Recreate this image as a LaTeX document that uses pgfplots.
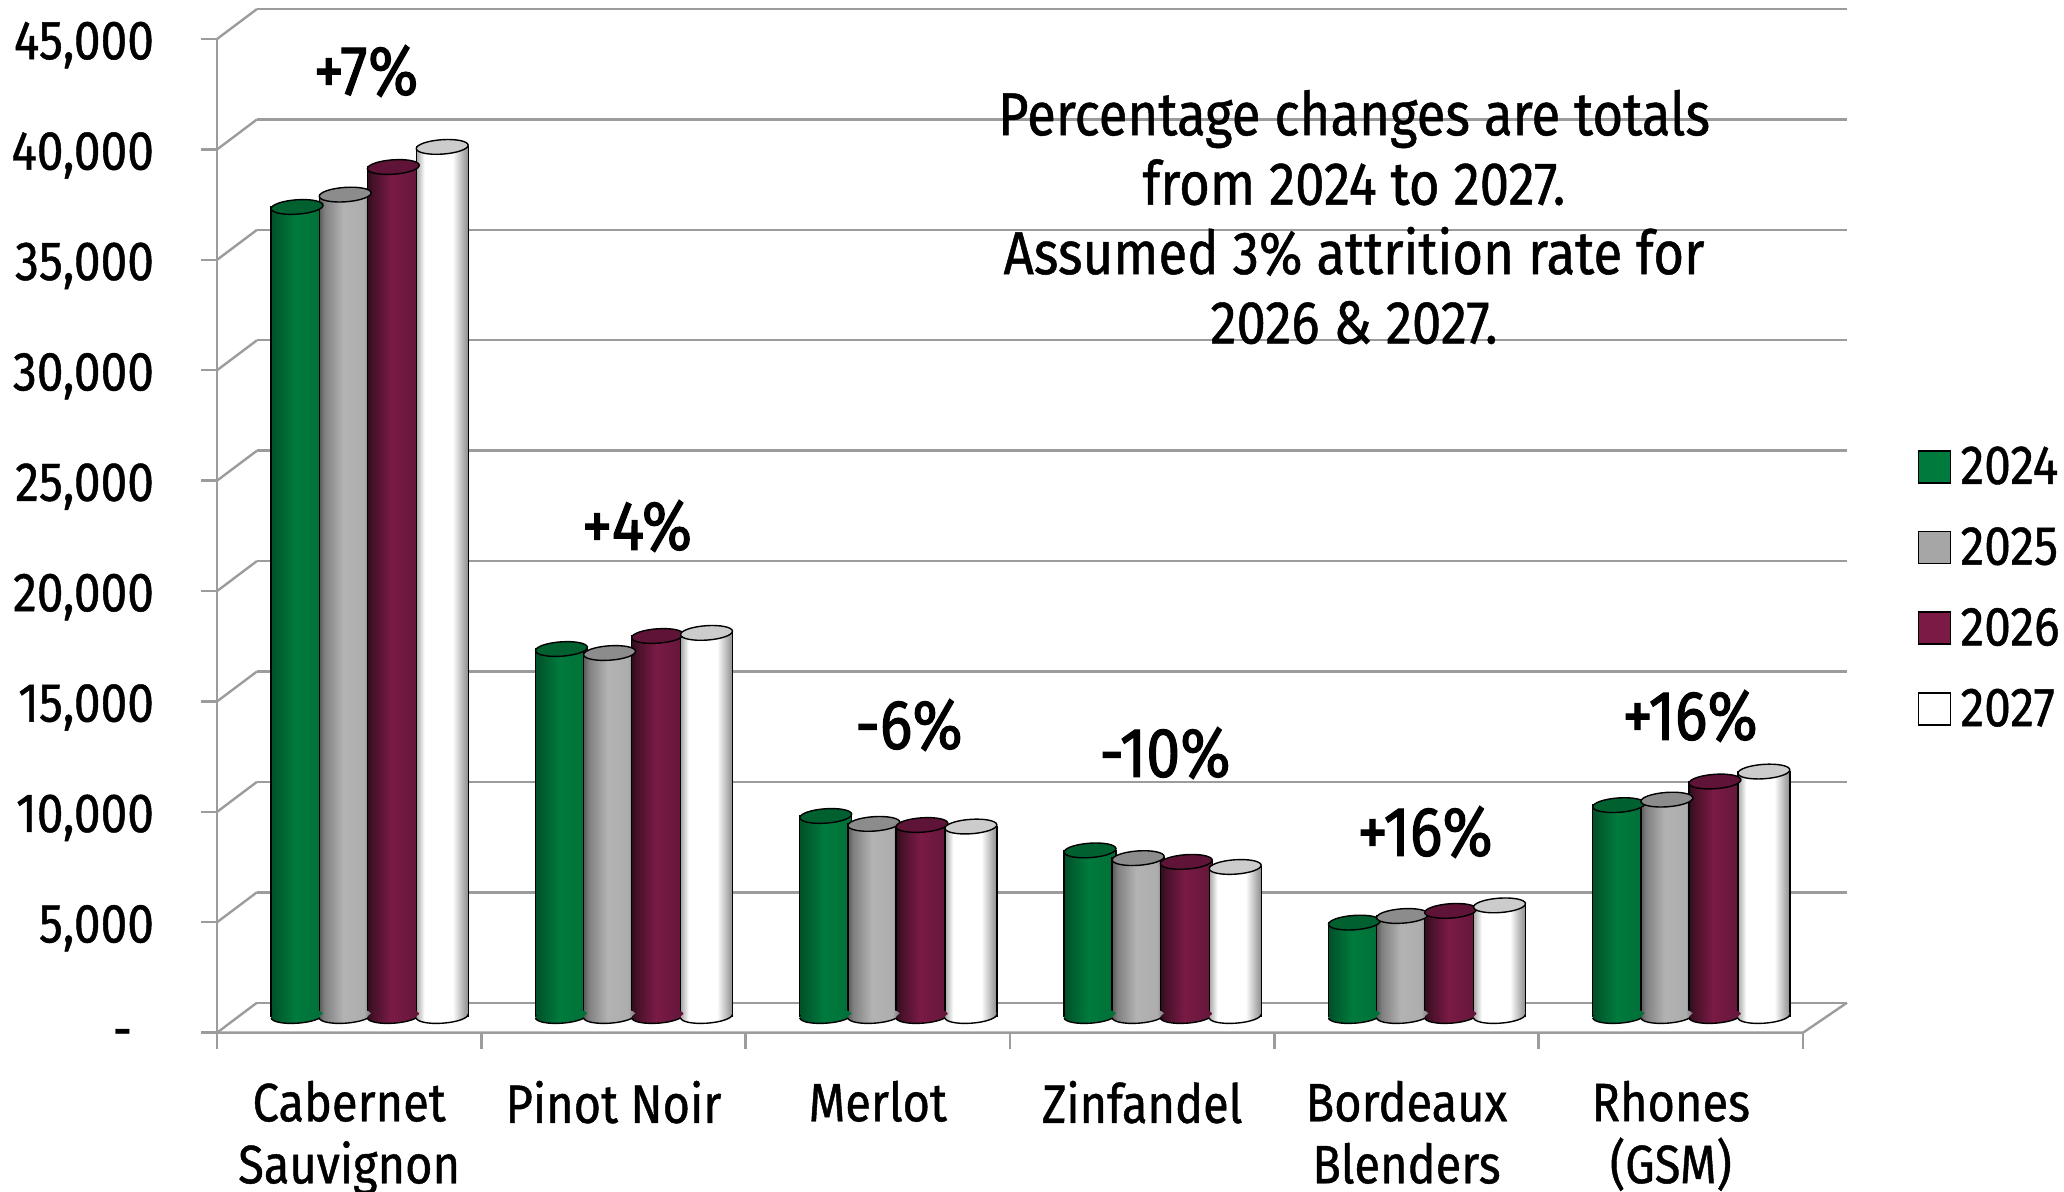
\documentclass[border=0pt]{standalone}
\usepackage{fontspec}
\setmainfont[FakeStretch=0.87,FakeBold=0.8]{Fira Sans}
\newfontface\pctfont[FakeStretch=0.87,FakeBold=1.5]{Fira Sans}
\usepackage{pgfplots}
\usepackage{pgfplotstable}
\pgfplotsset{compat=1.18}

% one reference pixel = 0.5pt
\def\px#1#2{({#1*0.5pt},{(1192-#2)*0.5pt})}

\definecolor{gridgray}{HTML}{9C9C9C}
\definecolor{gmid}{HTML}{007A3D}
\definecolor{gdark}{HTML}{005028}
\definecolor{gright}{HTML}{007038}
\definecolor{gtop}{HTML}{00602F}
\definecolor{rmid}{HTML}{7A1A45}
\definecolor{rdark}{HTML}{2D0C1C}
\definecolor{rleft}{HTML}{461128}
\definecolor{rright}{HTML}{64163A}
\definecolor{rtop}{HTML}{5F1437}

\pgfdeclarehorizontalshading{cylgreen}{100bp}{color(0bp)=(gdark);color(25bp)=(gdark);color(48bp)=(gmid);color(75bp)=(gright);color(100bp)=(gright)}
\pgfdeclarehorizontalshading{cylgray}{100bp}{color(0bp)=(black!65);color(25bp)=(black!65);color(30bp)=(black!50);color(48bp)=(black!30);color(68bp)=(black!32);color(75bp)=(black!55);color(100bp)=(black!55)}
\pgfdeclarehorizontalshading{cylred}{100bp}{color(0bp)=(rdark);color(25bp)=(rdark);color(30bp)=(rleft);color(48bp)=(rmid);color(75bp)=(rright);color(100bp)=(rright)}
\pgfdeclarehorizontalshading{cylwhite}{100bp}{color(0bp)=(black!35);color(25bp)=(black!35);color(33bp)=(white);color(60bp)=(white);color(75bp)=(black!45);color(100bp)=(black!45)}

\newcommand\declcyl[1]{%
  \pgfdeclareplotmark{base#1}{%
    \pgftransformrotate{4}%
    \pgfpathellipse{\pgfpointorigin}{\pgfpoint{13pt}{0pt}}{\pgfpoint{0pt}{3.6pt}}%
    \pgfshadepath{#1}{0}\pgfusepath{discard}%
    \pgfpathmoveto{\pgfpoint{-13pt}{0pt}}%
    \pgfpatharc{180}{360}{13pt and 3.6pt}%
    \pgfusepathqstroke}}
\declcyl{cylgreen}\declcyl{cylgray}\declcyl{cylred}\declcyl{cylwhite}
\pgfdeclareplotmark{cyltop}{%
  \pgftransformrotate{4}%
  \pgfpathellipse{\pgfpointorigin}{\pgfpoint{13pt}{0pt}}{\pgfpoint{0pt}{3.6pt}}%
  \pgfusepathqfillstroke}

\pgfplotstableread{
cat a2024 a2025 a2026 a2027
0 36640 37200 38450 39360
1 16620 16440 17210 17350
2 9060 8700 8650 8580
3 7500 7150 6980 6750
4 4230 4530 4760 5010
5 9550 9800 10620 11070
}\wines

% each bar gets its own plot, otherwise the shading runs over the whole series
\newcommand\cyl[4]{% column, x offset, shading, top colour
  \pgfplotsinvokeforeach{0,...,5}{
    \addplot[ybar,bar width=26pt,bar shift=0pt,draw=black,line width=0.7pt,shading=#3,forget plot,
      skip coords between index={0}{##1},
      skip coords between index={\numexpr##1+1\relax}{6}]
      table[x expr=\coordindex+#2,y=#1]{\wines};
  }
  \addplot[only marks,mark=base#3,mark options={draw=black,line width=0.7pt},forget plot]
    table[x expr=\coordindex+#2,y expr=0]{\wines};
  \addplot[only marks,mark=cyltop,mark options={draw=black,fill=#4,line width=0.7pt},forget plot]
    table[x expr=\coordindex+#2,y=#1]{\wines};
}
\newcommand\swatch[1]{\addlegendimage{legend image code/.code={\draw[black,line width=0.9pt,fill=#1] (0pt,-8pt) rectangle (16pt,8pt);}}}

\begin{document}
\begin{tikzpicture}
\path[use as bounding box] (0,0) rectangle (1032pt,596pt);
\begin{axis}[
  at={(108.5pt,79.65pt)},anchor=south west,
  scale only axis,width=815pt,height=512.35pt,
  xmin=-0.5,xmax=5.6666,ymin=-756,ymax=45652,
  clip=false,
  axis line style={draw=none},
  tick align=outside,
  major tick length=8pt,
  tick style={gridgray,line width=1.2pt},
  xtick pos=bottom,ytick pos=left,
  xtick={-0.5,0.5,1.5,2.5,3.5,4.5,5.5},
  xticklabels={},
  extra x ticks={0,1,2,3,4,5},
  extra x tick labels={{Cabernet\\Sauvignon},Pinot Noir,Merlot,Zinfandel,{Bordeaux\\Blenders},{Rhones\\(GSM)}},
  extra x tick style={tick style={draw=none},
    xticklabel style={align=center,anchor=north,yshift=-12.5pt,font=\fontsize{27}{31}\selectfont}},
  ytick={-756,4244,9244,14244,19244,24244,29244,34244,39244,44244},
  yticklabels={\raisebox{-7pt}{-}\kern11pt,{5,000},{10,000},{15,000},{20,000},{25,000},{30,000},{35,000},{40,000},{45,000}},
  yticklabel style={anchor=east,font=\fontsize{27.5}{31}\selectfont,yshift=-3pt,xshift=-20pt},
  legend style={at={(1.043,0.5763)},anchor=north west,draw=none,fill=none,
    font=\fontsize{27.5}{31}\selectfont,row sep=16.2pt,column sep=2.6pt,inner sep=0pt},
  legend cell align=left,
]
\pgfplotsinvokeforeach{0,...,9}{
  \draw[gridgray,line width=1.2pt] (axis cs:-0.349,{5000*#1+602}) -- (axis cs:5.6666,{5000*#1+602});
  \draw[gridgray,line width=1.2pt] (axis cs:-0.5,{5000*#1-756}) -- (axis cs:-0.349,{5000*#1+602});
}
\draw[gridgray,line width=1.2pt] (axis cs:-0.5,-756) -- (axis cs:-0.5,44244);
\draw[gridgray,line width=1.2pt] (axis cs:-0.5,-756) -- (axis cs:5.5,-756) -- (axis cs:5.6666,602);

\cyl{a2024}{-0.197}{cylgreen}{gtop}
\cyl{a2025}{-0.015}{cylgray}{black!45}
\cyl{a2026}{0.167}{cylred}{rtop}
\cyl{a2027}{0.352}{cylwhite}{black!20}

\swatch{gmid}\addlegendentry{2024}
\swatch{black!35}\addlegendentry{2025}
\swatch{rmid}\addlegendentry{2026}
\swatch{white}\addlegendentry{2027}
\end{axis}

\tikzset{every node/.style={font=\fontsize{30.3}{34.7}\selectfont}}
\tikzset{pct/.style={font=\pctfont\fontsize{35}{40}\selectfont}}
\node[pct] at \px{366}{71} {+7\%};
\node[pct] at \px{637}{526} {+4\%};
\node[pct] at \px{909}{725} {-6\%};
\node[pct] at \px{1165}{753} {-10\%};
\node[pct] at \px{1425}{832} {+16\%};
\node[pct] at \px{1690}{716} {+16\%};
\node[align=center] at \px{1354}{217} {Percentage changes are totals\\from 2024 to 2027.\\Assumed 3\% attrition rate for\\2026 \& 2027.};
\end{tikzpicture}
\end{document}
